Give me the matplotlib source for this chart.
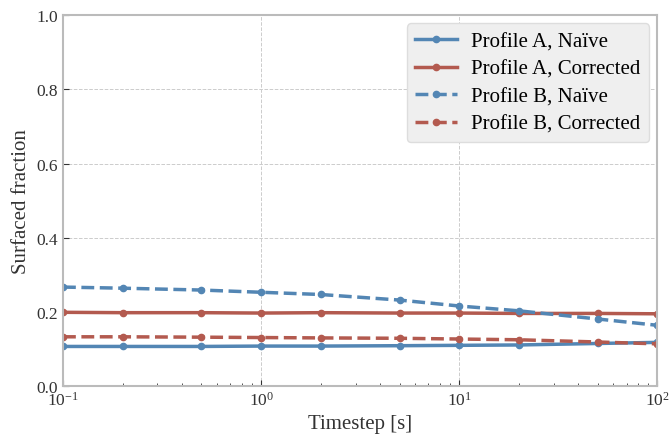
import matplotlib
matplotlib.use("Agg")
import matplotlib.pyplot as plt
import numpy as np

plt.rcParams['font.family'] = ['Liberation Serif', 'DejaVu Serif']
plt.rcParams['mathtext.fontset'] = 'dejavuserif'

# datos
timestep = [0.1, 0.2, 0.5, 1, 2, 5, 10, 20, 50, 100]
a_naive = [0.107, 0.107, 0.107, 0.108, 0.108, 0.109, 0.110, 0.111, 0.115, 0.118]
a_corr = [0.199, 0.198, 0.198, 0.197, 0.198, 0.197, 0.197, 0.196, 0.196, 0.195]
b_naive = [0.267, 0.264, 0.259, 0.253, 0.247, 0.232, 0.216, 0.203, 0.181, 0.164]
b_corr = [0.133, 0.133, 0.132, 0.131, 0.130, 0.129, 0.127, 0.125, 0.119, 0.114]
etiquetas = ["Profile A, Naïve", "Profile A, Corrected", "Profile B, Naïve", "Profile B, Corrected"]

azul = "#5386b4"
rojo = "#b35a4f"

fig = plt.figure(figsize=(6.7, 4.35), dpi=100)
ax = fig.add_axes([0.094, 0.110, 0.887, 0.853])

ax.plot(timestep, a_naive, "-o", color=azul, lw=2.5, ms=4.5, label=etiquetas[0])
ax.plot(timestep, a_corr, "-o", color=rojo, lw=2.5, ms=4.5, label=etiquetas[1])
ax.plot(timestep, b_naive, "--o", color=azul, lw=2.5, ms=4.5, label=etiquetas[2])
ax.plot(timestep, b_corr, "--o", color=rojo, lw=2.5, ms=4.5, label=etiquetas[3])

ax.set_xscale("log")
ax.set_xlim(0.1, 100)
ax.set_ylim(0, 1)
ax.set_yticks([0, 0.2, 0.4, 0.6, 0.8, 1.0])
ax.set_xlabel("Timestep [s]", fontsize=15, color="#333333")
ax.set_ylabel("Surfaced fraction", fontsize=15, color="#333333")
ax.grid(True, which="major", ls="--", lw=0.7, color="#cccccc")
ax.set_axisbelow(True)
ax.tick_params(which="both", direction="in", labelsize=12.5, colors="#333333")
ax.tick_params(which="major", length=4)
ax.tick_params(which="minor", length=2)
for s in ax.spines.values():
    s.set_color("#bbbbbb")
    s.set_linewidth(1.5)

leg = ax.legend(loc="upper right", fontsize=15, facecolor="#efefef", edgecolor="#dddddd",
                framealpha=1, handlelength=2.0, handletextpad=0.7, labelspacing=0.38,
                borderaxespad=0.4)

plt.savefig("out.png", dpi=100)
